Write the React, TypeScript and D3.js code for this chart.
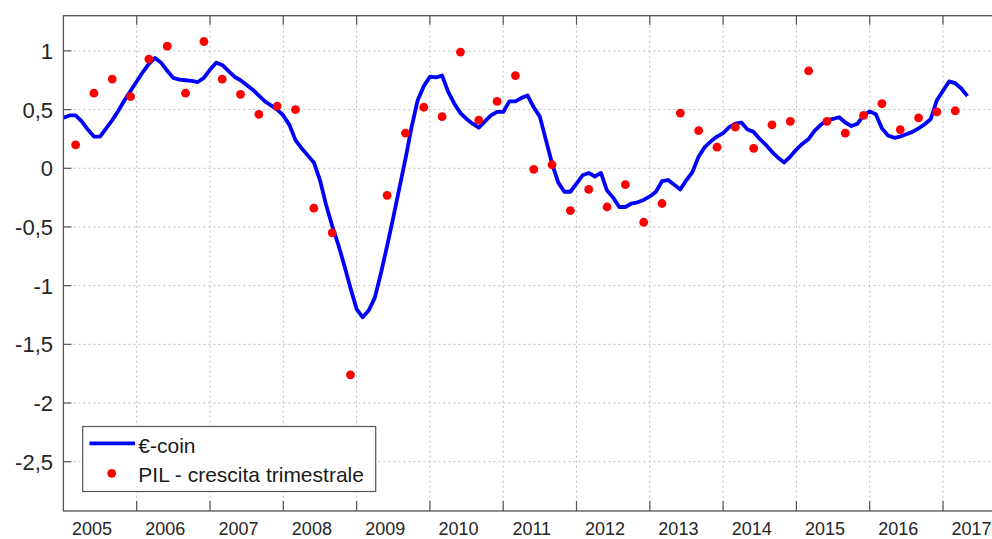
import React from 'react';
import * as d3 from 'd3';

// €-coin, monthly values from Jan 2005
const ecoin = [
  0.43, 0.45, 0.45, 0.40, 0.33, 0.27, 0.27, 0.34, 0.41, 0.49, 0.58, 0.66,
  0.74, 0.82, 0.89, 0.94, 0.90, 0.83, 0.77, 0.755, 0.75, 0.745, 0.735, 0.77,
  0.84, 0.90, 0.88, 0.83, 0.78, 0.75, 0.71, 0.67, 0.62, 0.57, 0.535, 0.50,
  0.45, 0.37, 0.24, 0.17, 0.11, 0.05, -0.10, -0.31, -0.49, -0.65, -0.83, -1.02,
  -1.20, -1.27, -1.21, -1.10, -0.89, -0.66, -0.42, -0.17, 0.08, 0.35, 0.58, 0.70,
  0.78, 0.775, 0.79, 0.65, 0.55, 0.47, 0.42, 0.38, 0.345, 0.40, 0.45, 0.48,
  0.48, 0.57, 0.57, 0.60, 0.62, 0.52, 0.44, 0.24, 0.04, -0.12, -0.20, -0.20,
  -0.13, -0.06, -0.04, -0.07, -0.04, -0.19, -0.25, -0.33, -0.33, -0.30, -0.29, -0.27,
  -0.24, -0.20, -0.11, -0.10, -0.14, -0.18, -0.10, -0.03, 0.10, 0.18, 0.23, 0.27,
  0.30, 0.35, 0.38, 0.39, 0.33, 0.31, 0.25, 0.20, 0.14, 0.09, 0.05, 0.10,
  0.16, 0.21, 0.25, 0.32, 0.37, 0.41, 0.42, 0.435, 0.39, 0.36, 0.38, 0.45,
  0.485, 0.46, 0.34, 0.28, 0.26, 0.27, 0.29, 0.31, 0.34, 0.375, 0.42, 0.58,
  0.66, 0.74, 0.725, 0.68, 0.615,
];

// PIL - crescita trimestrale, quarterly from Q1 2005 (Q1 2009 is below the axis)
const pil: (number | null)[] = [
  0.20, 0.64, 0.76, 0.61, 0.93, 1.04, 0.64, 1.08, 0.76, 0.63, 0.46, 0.53,
  0.50, -0.34, -0.55, -1.76, null, -0.23, 0.30, 0.52, 0.44, 0.99, 0.41, 0.57,
  0.79, -0.01, 0.03, -0.36, -0.18, -0.33, -0.14, -0.46, -0.30, 0.47, 0.32, 0.18,
  0.35, 0.17, 0.37, 0.40, 0.83, 0.40, 0.30, 0.45, 0.55, 0.33, 0.43, 0.48,
  0.49,
];

const years = d3.range(2005, 2018);
const yTicks = [1, 0.5, 0, -0.5, -1, -1.5, -2, -2.5];
const startYear = 2005;

const W = 992;
const H = 539;
const left = 63.4;
const top = 15.7;
const bottom = 511;
const right = 1016.3;
const labelOffset = 0.39;
const font = '"Liberation Sans", Arial, Helvetica, sans-serif';
const frame = '#555';

export default function App() {
  const x = d3.scaleLinear().domain([2005, 2018]).range([left, right]);
  const y = d3.scaleLinear().domain([-2.92, 1.3]).range([bottom, top]);

  const line = d3
    .line<number>()
    .x((_, i) => x(startYear + i / 12))
    .y(d => y(d));

  const dots = pil
    .map((v, k) => ({ t: startYear + k / 4 + 2 / 12, v }))
    .filter(d => d.v !== null) as { t: number; v: number }[];

  const fmt = (v: number) => String(v).replace('.', ',');

  return (
    <svg
      width={W}
      height={H}
      style={{ position: 'absolute', left: 0, top: 0, background: '#fff' }}
      fontFamily={font}
    >
      <defs>
        <clipPath id="plot">
          <rect x={left} y={top} width={right - left} height={bottom - top} />
        </clipPath>
      </defs>

      {/* grid */}
      <g stroke="#bcbcbc" strokeWidth={1} strokeDasharray="2,3">
        {yTicks.map(t => (
          <line key={'gy' + t} x1={left} x2={right} y1={y(t)} y2={y(t)} />
        ))}
        {years.slice(1).map(yr => (
          <line key={'gx' + yr} x1={x(yr)} x2={x(yr)} y1={top} y2={bottom} />
        ))}
      </g>

      {/* ticks */}
      <g stroke={frame} strokeWidth={1.2}>
        {yTicks.map(t => (
          <line key={'ty' + t} x1={left} x2={left + 8} y1={y(t)} y2={y(t)} />
        ))}
        {years.slice(1).map(yr => (
          <g key={'tx' + yr}>
            <line x1={x(yr)} x2={x(yr)} y1={top} y2={top + 9} />
            <line x1={x(yr)} x2={x(yr)} y1={bottom} y2={bottom - 10} />
          </g>
        ))}
      </g>

      {/* series */}
      <g clipPath="url(#plot)">
        <path d={line(ecoin) || ''} fill="none" stroke="#0000ff" strokeWidth={3.8} strokeLinejoin="round" />
        {dots.map((d, i) => (
          <circle key={i} cx={x(d.t)} cy={y(d.v)} r={4.4} fill="#ff0000" />
        ))}
      </g>

      {/* frame */}
      <rect x={left} y={top} width={right - left} height={bottom - top} fill="none" stroke={frame} strokeWidth={1.3} />

      {/* y labels */}
      {yTicks.map(t => (
        <text key={'ly' + t} x={53} y={y(t)} dy="0.36em" textAnchor="end" fontSize={22} fill="#262626">
          {fmt(t)}
        </text>
      ))}

      {/* x labels */}
      {years.map(yr => (
        <text key={'lx' + yr} x={x(yr + labelOffset)} y={534.5} textAnchor="middle" fontSize={18} fill="#262626">
          {yr}
        </text>
      ))}

      {/* legend */}
      <g>
        <rect x={82.7} y={426.5} width={293} height={65} fill="#fff" stroke={frame} strokeWidth={1.2} />
        <line x1={89.5} x2={135} y1={443.3} y2={443.3} stroke="#0000ff" strokeWidth={3.8} />
        <circle cx={111.7} cy={473.3} r={4.4} fill="#ff0000" />
        <text x={138.3} y={453.3} fontSize={21} fill="#1a1a1a">€-coin</text>
        <text x={138.3} y={482.3} fontSize={21} fill="#1a1a1a">PIL - crescita trimestrale</text>
      </g>
    </svg>
  );
}
